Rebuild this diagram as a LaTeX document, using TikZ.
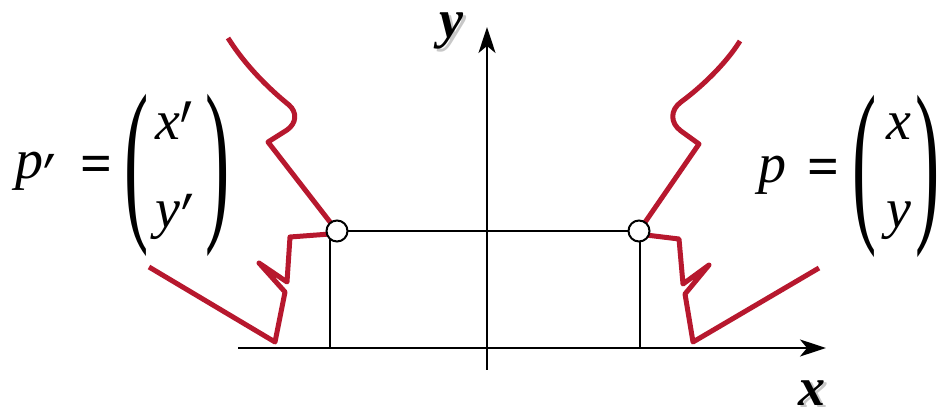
\documentclass[tikz,border=0pt]{standalone}
\usepackage{fontspec}
\setmainfont{Liberation Serif}
\newfontfamily\lblfont{Liberation Serif}
\newfontfamily\primefont{DejaVu Serif}
\usetikzlibrary{arrows.meta}
\definecolor{curvered}{RGB}{183,24,46}
\definecolor{shadowgray}{RGB}{200,200,200}
\begin{document}
\begin{tikzpicture}[x=1pt,y=-1pt,
  axisline/.style={line width=2pt,-{Stealth[length=26pt,width=17pt,inset=7pt]}},
  guide/.style={line width=1.8pt},
  profile/.style={draw=curvered,line width=5pt,line join=round},
  ptmark/.style={circle,draw,line width=2pt,fill=white,minimum size=21pt,inner sep=0pt},
  mtxt/.style={inner sep=0pt,anchor=base,font=\lblfont\fontsize{56}{60}\selectfont\itshape},
  primetxt/.style={inner sep=0pt,anchor=base,font=\primefont\fontsize{56}{60}\selectfont},
  eqtxt/.style={inner sep=0pt,font=\lblfont\fontsize{56}{60}\selectfont\bfseries},
  paren/.style={inner sep=0pt,font=\lblfont\fontsize{56}{60}\selectfont},
  axlbl/.style={inner sep=0pt,anchor=base,font=\lblfont\fontsize{54}{58}\selectfont\bfseries\itshape},
  axshadow/.style={axlbl,text=shadowgray}
]
\useasboundingbox (0,0) rectangle (940,411);

% axes
\coordinate (xs) at (238,348);
\coordinate (xe) at (826,348);
\coordinate (ys) at (487,370);
\coordinate (ye) at (487,27);
\draw[axisline] (xs) -- (xe);
\draw[axisline] (ys) -- (ye);

% point positions
\coordinate (Pc) at (639,231);
\coordinate (Qc) at (337,231);
\coordinate (Pf) at (640,348);
\coordinate (Qf) at (330,348);

% guide lines
\draw[guide] (Qc) -- (Pc);
\draw[guide] (Pf |- Pc) -- (Pf);
\draw[guide] (Qf |- Qc) -- (Qf);

% right profile
\draw[profile] (Pc) -- (699,144) -- (681,131)
  .. controls (670,123) and (670,110) .. (681,102)
  .. controls (700,88) and (725,65) .. (740,41);
\draw[profile] (646,235) -- (679,239) -- (683,284) -- (709,265)
  -- (685,294) -- (693,342) -- (819,268);

% left profile
\draw[profile] (Qc) -- (268,142) -- (287,130)
  .. controls (297,123) and (297,112) .. (289,105)
  .. controls (268,88) and (245,65) .. (228,38);
\draw[profile] (330,234) -- (290,237) -- (287,282) -- (259,263)
  -- (285,292) -- (275,342) -- (149,267);

% points
\node[ptmark] (P) at (Pc) {};
\node[ptmark] (Q) at (Qc) {};

% right label p = (x y)
\node[mtxt] (pR) at (772,183) {p};
\node[eqtxt] (eqR) at (823,172) {=};
\node[paren] (lpR) at (865,176) {\scalebox{1.3}[3.2]{(}};
\node[paren] (rpR) at (928,176) {\scalebox{1.3}[3.2]{)}};
\node[mtxt] (xR) at (899,140) {x};
\node[mtxt] (yR) at (899,228) {y};

% left label p' = (x' y')
\node[mtxt] (pL) at (29,179) {p};
\node[primetxt] (pLp) at (50,210) {\scalebox{1}[1.35]{′}};
\node[eqtxt] (eqL) at (96,169) {=};
\node[paren] (lpL) at (137,175) {\scalebox{1.3}[3.2]{(}};
\node[paren] (rpL) at (218,175) {\scalebox{1.3}[3.2]{)}};
\node[mtxt] (xL) at (168,140) {x};
\node[primetxt] (xLp) at (187,184) {\scalebox{1}[2]{′}};
\node[mtxt] (yL) at (168,228) {y};
\node[primetxt] (yLp) at (188,256) {\scalebox{1}[1.5]{′}};

% axis labels with shadow
\node[axshadow] (yshadow) at (454,41) {y};
\node[axlbl] (ylab) at (451,38) {y};
\node[axshadow] (xshadow) at (815,408) {x};
\node[axlbl] (xlab) at (812,406) {x};
\end{tikzpicture}
\end{document}
